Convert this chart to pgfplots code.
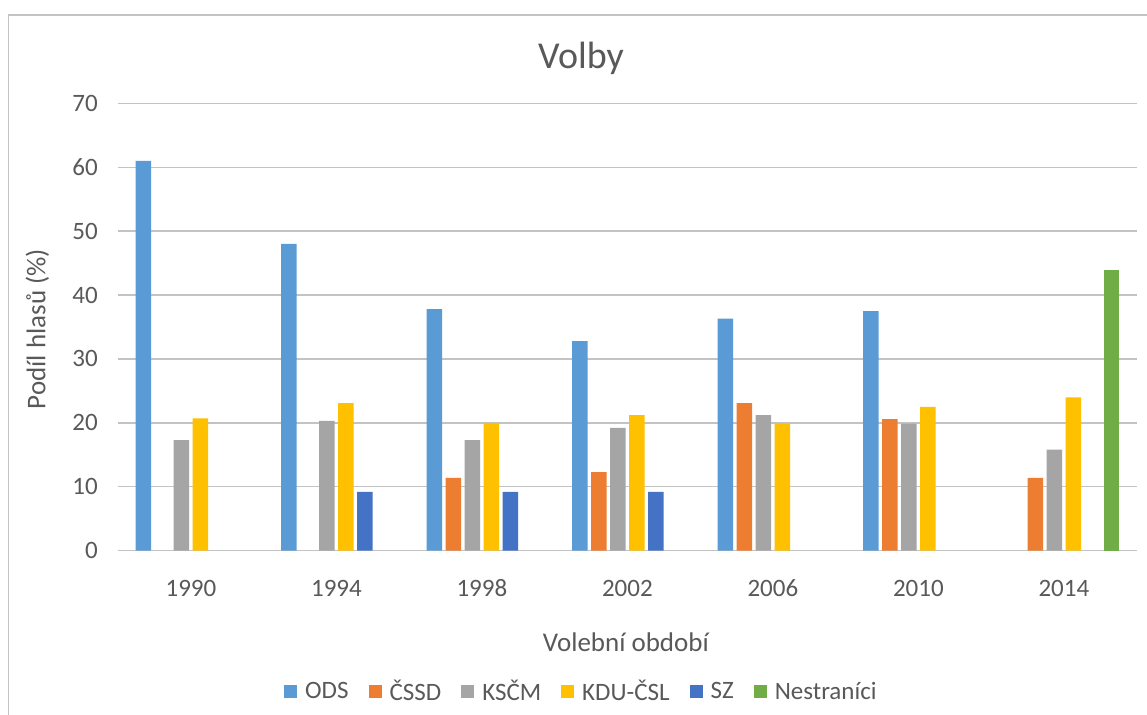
\documentclass[border=0pt]{standalone}
\usepackage{fontspec}
\setmainfont{Carlito}
\usepackage{pgfplots}
\pgfplotsset{compat=1.18}
\definecolor{cODS}{HTML}{5B9BD5}
\definecolor{cCSSD}{HTML}{ED7D31}
\definecolor{cKSCM}{HTML}{A5A5A5}
\definecolor{cKDU}{HTML}{FFC000}
\definecolor{cSZ}{HTML}{4472C4}
\definecolor{cNS}{HTML}{70AD47}
\definecolor{txt}{HTML}{595959}
\definecolor{gridc}{HTML}{C3C3C3}
\begin{document}
\begin{tikzpicture}
\useasboundingbox (0,0) rectangle (573.5pt,357.5pt);
\fill[white] (0,0) rectangle (573.5pt,357.5pt);
\draw[gridc, line width=0.7pt] (4.25pt,0) -- (4.25pt,350pt) -- (573.5pt,350pt);
\begin{axis}[
  at={(59.1pt,82.15pt)}, anchor=south west,
  scale only axis, width=509.2pt, height=223.7pt,
  ybar=1.75pt, bar width=7.75pt,
  xmin=-0.5, xmax=6.5, ymin=0, ymax=70,
  xtick={0,...,6}, xticklabels={1990,1994,1998,2002,2006,2010,2014},
  ytick={0,10,...,70},
  major tick length=0pt,
  axis line style={draw=none},
  ymajorgrids, grid style={gridc, line width=0.65pt},
  /pgf/number format/assume math mode=true,
  tick label style={font=\fontsize{12.5}{14}\selectfont, text=txt},
  yticklabel style={anchor=east, inner sep=0pt, xshift=-10pt},
  xticklabel style={anchor=base, yshift=-23.15pt},
  title={Volby},
  title style={at={(axis description cs:0.4544,1.052)}, anchor=base, font=\fontsize{19}{22}\selectfont, text=txt},
  xlabel={Volební období},
  xlabel style={at={(axis description cs:0.4985,-0.2264)}, anchor=base, font=\fontsize{13.5}{16}\selectfont, text=txt},
  ylabel={Podíl hlasů (\%)},
  ylabel style={at={(axis description cs:-0.0716,0.4955)}, anchor=base, font=\fontsize{13.5}{16}\selectfont, text=txt},
  legend columns=6,
  legend style={at={(0.4558,-0.3158)}, anchor=center, draw=none, fill=none,
    font=\fontsize{12.5}{15}\selectfont, text=txt,
    /tikz/every odd column/.append style={column sep=2pt},
    /tikz/every even column/.append style={column sep=8pt}},
  legend image code/.code={\fill[#1] (0pt,-3.25pt) rectangle (6.5pt,3.25pt);},
]
\addplot[fill=cODS, draw=none] coordinates {(0,61.0) (1,48.0) (2,37.8) (3,32.8) (4,36.3) (5,37.5)};
\addplot[fill=cCSSD, draw=none] coordinates {(2,11.4) (3,12.3) (4,23.1) (5,20.6) (6,11.4)};
\addplot[fill=cKSCM, draw=none] coordinates {(0,17.3) (1,20.3) (2,17.3) (3,19.2) (4,21.2) (5,19.9) (6,15.8)};
\addplot[fill=cKDU, draw=none] coordinates {(0,20.7) (1,23.1) (2,20.0) (3,21.2) (4,19.9) (5,22.5) (6,24.0)};
\addplot[fill=cSZ, draw=none] coordinates {(1,9.2) (2,9.2) (3,9.2)};
\addplot[fill=cNS, draw=none] coordinates {(6,43.9)};
\legend{ODS, ČSSD, KSČM, KDU-ČSL, SZ, Nestraníci}
\end{axis}
\end{tikzpicture}
\end{document}
